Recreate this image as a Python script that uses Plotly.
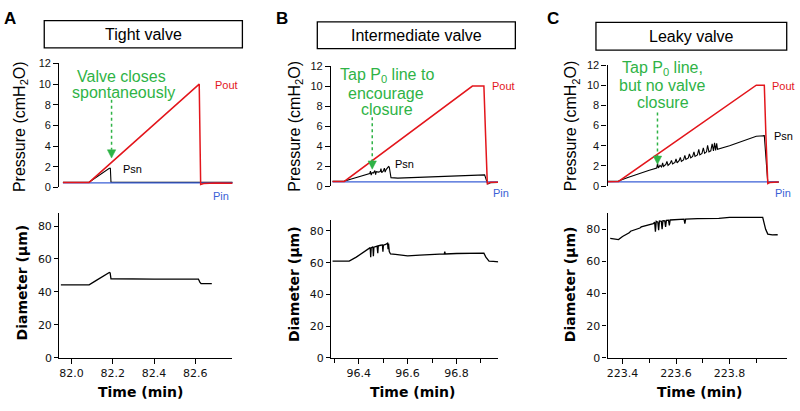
import plotly.graph_objects as go

# ---------------- data ----------------
# Panel A (tight valve)
pout_a_t = [81.958, 82.085, 82.619, 82.626, 82.64, 82.70, 82.783]
pout_a_v = [0.47, 0.48, 10.0, 0.28, 0.38, 0.42, 0.40]
psn_a_t = [81.958, 82.085, 82.183, 82.188, 82.191, 82.783]
psn_a_v = [0.48, 0.50, 1.85, 1.85, 0.50, 0.48]
pin_a_t = [81.958, 82.783]
pin_a_v = [0.43, 0.43]
dia_a_t = [81.948, 82.085, 82.12, 82.15, 82.183, 82.187, 82.191, 82.40, 82.615, 82.622, 82.628, 82.68]
dia_a_v = [44.3, 44.3, 47.0, 49.5, 51.8, 51.5, 48.0, 47.8, 47.8, 46.0, 45.0, 45.0]

# Panel B (intermediate valve)
pout_b_t = [96.293, 96.341, 96.865, 96.912, 96.919, 96.926, 96.94, 96.973]
pout_b_v = [0.46, 0.47, 10.0, 10.0, 5.0, 0.25, 0.38, 0.40]
psn_b_t = [96.293, 96.341, 96.37, 96.40, 96.43, 96.445, 96.448, 96.451, 96.455, 96.46, 96.466,
           96.469, 96.472, 96.48, 96.488, 96.491, 96.494, 96.50, 96.505, 96.508, 96.512, 96.518,
           96.522, 96.525, 96.528, 96.532, 96.56, 96.65, 96.75, 96.85, 96.915, 96.922, 96.928,
           96.94, 96.973]
psn_b_v = [0.47, 0.50, 0.72, 0.95, 1.15, 1.25, 1.50, 1.10, 1.35, 1.30, 1.55,
           1.15, 1.45, 1.40, 1.45, 1.75, 1.35, 1.50, 1.80, 1.40, 1.65, 1.90,
           1.95, 1.90, 1.20, 0.85, 0.80, 0.88, 0.97, 1.06, 1.12, 0.60, 0.22,
           0.35, 0.38]
pin_b_t = [96.293, 96.973]
pin_b_v = [0.43, 0.43]
dia_b_t = [96.293, 96.33, 96.361, 96.39, 96.42, 96.44, 96.447, 96.449, 96.451, 96.458, 96.46,
           96.462, 96.475, 96.478, 96.48, 96.49, 96.497, 96.499, 96.501, 96.51, 96.515, 96.518,
           96.52, 96.522, 96.525, 96.53, 96.55, 96.60, 96.65, 96.70, 96.75, 96.752, 96.754,
           96.80, 96.85, 96.90, 96.912, 96.92, 96.933, 96.95, 96.973]
dia_b_v = [61.0, 60.8, 61.0, 63.5, 66.5, 68.5, 69.5, 63.5, 69.3, 70.0, 64.0,
           69.8, 70.5, 66.0, 70.6, 71.0, 71.2, 67.0, 71.0, 71.5, 72.0, 72.3,
           68.5, 72.0, 67.0, 65.5, 65.2, 64.3, 64.8, 65.2, 65.5, 67.0, 65.5,
           65.8, 66.0, 66.0, 66.0, 63.5, 61.0, 60.8, 60.5]

# Panel C (leaky valve)
pout_c_t = [223.342, 223.385, 223.90, 223.93, 223.936, 223.943, 223.95, 223.984]
pout_c_v = [0.44, 0.46, 10.0, 10.0, 5.0, 0.25, 0.35, 0.40]
psn_c_t = [223.342, 223.385, 223.42, 223.46, 223.50, 223.528, 223.531, 223.534, 223.54, 223.546,
           223.55, 223.553, 223.562, 223.566, 223.57, 223.578, 223.583, 223.587, 223.596, 223.6,
           223.604, 223.612, 223.616, 223.62, 223.628, 223.633, 223.637, 223.646, 223.65, 223.655,
           223.662, 223.667, 223.671, 223.68, 223.685, 223.689, 223.697, 223.702, 223.707, 223.714,
           223.718, 223.723, 223.73, 223.735, 223.74, 223.744, 223.748, 223.752, 223.755, 223.80,
           223.85, 223.90, 223.93, 223.936, 223.943, 223.95, 223.984]
psn_c_v = [0.47, 0.50, 0.85, 1.25, 1.58, 1.80, 2.25, 1.80, 2.05, 1.90,
           2.30, 1.95, 2.15, 2.45, 2.05, 2.25, 2.55, 2.20, 2.35, 2.70, 2.30,
           2.55, 2.85, 2.45, 2.60, 3.05, 2.65, 2.80, 3.20, 2.80, 2.95,
           3.40, 2.95, 3.10, 3.65, 3.10, 3.25, 3.80, 3.25, 3.40, 4.05,
           3.40, 3.50, 4.20, 3.50, 4.30, 3.55, 4.25, 3.65, 4.00, 4.45,
           4.95, 5.00, 2.50, 0.35, 0.40, 0.40]
pin_c_t = [223.342, 223.984]
pin_c_v = [0.43, 0.43]
dia_c_t = [223.354, 223.375, 223.385, 223.40, 223.425, 223.43, 223.45, 223.465, 223.47, 223.49,
           223.50, 223.515, 223.52, 223.523, 223.526, 223.532, 223.535, 223.538, 223.545, 223.548,
           223.551, 223.558, 223.561, 223.564, 223.572, 223.575, 223.578, 223.60, 223.63, 223.633,
           223.636, 223.68, 223.72, 223.76, 223.80, 223.85, 223.90, 223.924, 223.935, 223.943,
           223.96, 223.98]
dia_c_v = [74.4, 74.0, 73.6, 75.5, 77.8, 78.8, 79.8, 80.8, 81.5, 82.2,
           83.0, 83.5, 84.5, 78.5, 85.0, 84.5, 79.5, 85.2, 85.0, 80.0,
           85.3, 85.2, 81.5, 85.5, 85.6, 82.5, 85.8, 86.2, 86.3, 83.5,
           86.4, 86.6, 86.6, 86.8, 87.4, 87.5, 87.6, 87.4, 80.0, 77.0,
           76.5, 76.6]

panel_titles = ["Tight valve", "Intermediate valve", "Leaky valve"]
panel_letters = ["A", "B", "C"]
pressure_ticks = [0, 2, 4, 6, 8, 10, 12]
diameter_ticks = [0, 20, 40, 60, 80]
time_ticks_a = [82.0, 82.2, 82.4, 82.6]
time_ticks_b = [96.4, 96.6, 96.8]
time_minor_b = [96.3, 96.5, 96.7, 96.9]
time_ticks_c = [223.4, 223.6, 223.8]
time_minor_c = [223.5, 223.7, 223.9]

# ---------------- layout helpers ----------------
W, H = 800, 411
def fx(x):
    return x / W
def fy(y):
    return 1 - y / H

RED = "#e3161c"
BLUE = "#3a5fd6"
GREEN = "#2fb346"

fig = go.Figure()

cols = [
    dict(pout=(pout_a_t, pout_a_v), psn=(psn_a_t, psn_a_v), pin=(pin_a_t, pin_a_v), dia=(dia_a_t, dia_a_v),
         xdom=(58.3, 231.7), xr=(81.94, 82.78), ticks=time_ticks_a, minor=None,
         ptop=(59.3, 187.3), dtop=(213.3, 363.3), drange=88.2),
    dict(pout=(pout_b_t, pout_b_v), psn=(psn_b_t, psn_b_v), pin=(pin_b_t, pin_b_v), dia=(dia_b_t, dia_b_v),
         xdom=(330.5, 497.7), xr=(96.287, 96.97), ticks=time_ticks_b, minor=time_minor_b,
         ptop=(62, 186), dtop=(220.7, 363.3), drange=87.1),
    dict(pout=(pout_c_t, pout_c_v), psn=(psn_c_t, psn_c_v), pin=(pin_c_t, pin_c_v), dia=(dia_c_t, dia_c_v),
         xdom=(607.3, 787.3), xr=(223.344, 224.016), ticks=time_ticks_c, minor=time_minor_c,
         ptop=(61, 186), dtop=(214, 363.3), drange=90.0),
]

layout_axes = {}
for i, c in enumerate(cols):
    top = 2 * i + 1
    bot = 2 * i + 2
    xt = "x" if top == 1 else f"x{top}"
    yt = "y" if top == 1 else f"y{top}"
    xb = f"x{bot}"
    yb = f"y{bot}"
    fig.add_trace(go.Scatter(x=c["psn"][0], y=c["psn"][1], mode="lines",
                             line=dict(color="black", width=1.1), xaxis=xt, yaxis=yt, showlegend=False))
    fig.add_trace(go.Scatter(x=c["pin"][0], y=c["pin"][1], mode="lines",
                             line=dict(color=BLUE, width=1.3), xaxis=xt, yaxis=yt, showlegend=False))
    fig.add_trace(go.Scatter(x=c["pout"][0], y=c["pout"][1], mode="lines",
                             line=dict(color=RED, width=1.5), xaxis=xt, yaxis=yt, showlegend=False))
    fig.add_trace(go.Scatter(x=c["dia"][0], y=c["dia"][1], mode="lines",
                             line=dict(color="black", width=1.3), xaxis=xb, yaxis=yb, showlegend=False))

    xdom = [fx(c["xdom"][0]), fx(c["xdom"][1])]
    key_xt = "xaxis" if top == 1 else f"xaxis{top}"
    key_yt = "yaxis" if top == 1 else f"yaxis{top}"
    layout_axes[key_xt] = dict(domain=xdom, range=list(c["xr"]), visible=False, anchor=yt)
    layout_axes[key_yt] = dict(domain=[fy(c["ptop"][1]), fy(c["ptop"][0])], range=[0, 12], anchor=xt,
                               tickvals=pressure_ticks, ticks="outside", ticklen=5, tickwidth=1,
                               tickcolor="black", showline=True, linecolor="black", linewidth=1.3,
                               showgrid=False, zeroline=False,
                               tickfont=dict(family="Liberation Sans, Arial", size=11, color="#111"))
    xb_dict = dict(domain=xdom, range=list(c["xr"]), anchor=yb, tickvals=c["ticks"],
                   tickformat=".1f", ticks="outside", ticklen=5, tickwidth=1, tickcolor="black",
                   showline=True, linecolor="black", linewidth=1.3, showgrid=False, zeroline=False,
                   tickfont=dict(family="DejaVu Sans", size=11, color="#111"))
    if c["minor"]:
        xb_dict["minor"] = dict(ticks="outside", ticklen=4, tickvals=c["minor"],
                                tickcolor="black", tickwidth=1, showgrid=False)
    layout_axes[f"xaxis{bot}"] = xb_dict
    layout_axes[f"yaxis{bot}"] = dict(domain=[fy(c["dtop"][1]), fy(c["dtop"][0])], range=[0, c["drange"]],
                                      anchor=xb, tickvals=diameter_ticks, ticks="outside", ticklen=4,
                                      tickwidth=1, tickcolor="black", showline=True, linecolor="black",
                                      linewidth=1.3, showgrid=False, zeroline=False,
                                      tickfont=dict(family="DejaVu Sans", size=11, color="#111"))

annotations = []
shapes = []

def ann(text, x, y, size, color="black", family="Liberation Sans, Arial", angle=0, bold=False,
        xanchor="center"):
    if bold:
        text = f"<b>{text}</b>"
    annotations.append(dict(text=text, x=fx(x), y=fy(y), xref="paper", yref="paper",
                            showarrow=False, xanchor=xanchor, yanchor="middle", textangle=angle,
                            font=dict(family=family, size=size, color=color)))

# title boxes
boxes = [(43.3, 15, 241.7, 43.3), (316.7, 16.3, 515, 44), (595.7, 17, 786.7, 45.5)]
for (x0, y0, x1, y1), t in zip(boxes, panel_titles):
    shapes.append(dict(type="rect", xref="paper", yref="paper", x0=fx(x0), x1=fx(x1), y0=fy(y1), y1=fy(y0),
                       line=dict(color="black", width=1.3), fillcolor="white"))
    ann(t, (x0 + x1) / 2, (y0 + y1) / 2, 16)

# panel letters
for t, x in zip(panel_letters, [9.5, 281, 552.5]):
    ann(t, x, 12.5, 17, bold=True, family="Liberation Sans, Arial")

# axis titles
for x in [19, 294, 571]:
    ann("Pressure (cmH<sub>2</sub>O)", x, 124, 16, angle=-90)
for x, y in [(21.5, 285), (293.5, 287), (570.5, 287.5)]:
    ann("Diameter (μm)", x, y, 14, angle=-90, bold=True, family="DejaVu Sans")
for x in [140, 412, 699]:
    ann("Time (min)", x, 399, 14, bold=True, family="DejaVu Sans")

# trace labels
for x, y in [(225.5, 82), (503, 82.7), (783.7, 82.7)]:
    ann("Pout", x, y, 11, color=RED)
for x, y in [(132, 168.3), (403.7, 163.3), (783.8, 134.3)]:
    ann("Psn", x, y, 11)
for x, y in [(220.5, 196), (500.5, 192.7), (783.3, 192.7)]:
    ann("Pin", x, y, 11, color=BLUE)

# green notes
ann("Valve closes", 121, 73, 16, color=GREEN)
ann("spontaneously", 122.3, 89.5, 16, color=GREEN)
ann("Tap P<sub>0</sub> line to", 386.7, 71.5, 16, color=GREEN)
ann("encourage", 385, 90, 16, color=GREEN)
ann("closure", 386.7, 106.5, 16, color=GREEN)
ann("Tap P<sub>0</sub> line,", 662.5, 64.5, 16, color=GREEN)
ann("but no valve", 662, 82.5, 16, color=GREEN)
ann("closure", 662.5, 99.5, 16, color=GREEN)

# green dotted arrows
for x, y0, y1 in [(110.7, 96.7, 148.5), (371.7, 115, 160), (657.3, 110, 155)]:
    shapes.append(dict(type="line", xref="paper", yref="paper", x0=fx(x), x1=fx(x), y0=fy(y0), y1=fy(y1),
                       line=dict(color=GREEN, width=1.5, dash="dot")))
    tip = y1 + 8.5
    path = f"M {fx(x-4.2)} {fy(y1)} L {fx(x+4.2)} {fy(y1)} L {fx(x)} {fy(tip)} Z"
    shapes.append(dict(type="path", xref="paper", yref="paper", path=path,
                       line=dict(color=GREEN, width=0.5), fillcolor=GREEN))

fig.update_layout(
    width=W, height=H, autosize=False,
    margin=dict(l=0, r=0, t=0, b=0),
    paper_bgcolor="white", plot_bgcolor="white",
    showlegend=False,
    annotations=annotations, shapes=shapes,
    **layout_axes,
)

fig.write_html("out.html", config={"displayModeBar": False},
               post_script="document.body.style.margin='0';")
